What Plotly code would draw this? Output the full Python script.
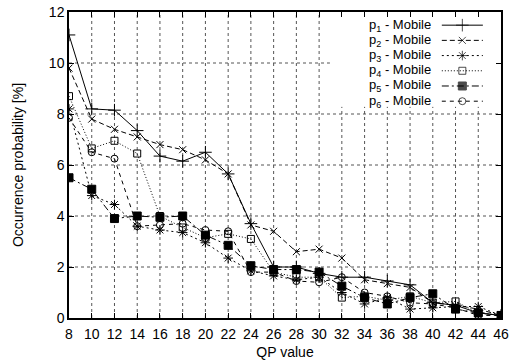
import plotly.graph_objects as go

qp = [8, 10, 12, 14, 16, 18, 20, 22, 24, 26, 28, 30, 32, 34, 36, 38, 40, 42, 44, 46]

p1 = [11.1, 8.2, 8.15, 7.35, 6.35, 6.15, 6.5, 5.65, 3.7, 2.0, 2.0, 1.75, 1.6, 1.6, 1.45, 1.3, 0.6, 0.5, 0.2, 0.1]
p2 = [9.8, 7.8, 7.4, 7.1, 6.8, 6.6, 6.2, 5.65, 3.65, 3.4, 2.6, 2.7, 2.35, 1.5, 1.35, 1.2, 0.6, 0.5, 0.35, 0.1]
p3 = [8.2, 4.8, 4.45, 3.6, 3.45, 3.35, 2.95, 2.35, 1.85, 1.65, 1.5, 1.6, 1.0, 0.55, 0.8, 0.35, 0.4, 0.45, 0.45, 0.1]
p4 = [8.7, 6.65, 6.95, 6.45, 4.0, 3.55, 3.15, 3.3, 3.1, 1.8, 1.6, 1.6, 0.8, 0.85, 0.7, 0.85, 0.6, 0.65, 0.2, 0.1]
p5 = [5.5, 5.05, 3.9, 4.0, 3.95, 4.0, 3.25, 2.85, 2.05, 1.9, 1.9, 1.8, 1.25, 0.8, 0.55, 0.8, 0.95, 0.35, 0.2, 0.1]
p6 = [7.85, 6.5, 6.25, 3.6, 3.65, 3.7, 3.45, 3.4, 1.8, 1.8, 1.45, 1.4, 1.6, 1.0, 0.85, 0.6, 0.55, 0.4, 0.1, 0.1]

names = ["p<sub>%d</sub> - Mobile" % i for i in range(1, 7)]
series = [p1, p2, p3, p4, p5, p6]
dashes = ["solid", "5px,3px", "2px,3px", "1px,2px", "7px,3px,2px,3px", "4px,4px"]
symbols = ["cross-thin-open", "x-thin-open", "asterisk-open", "square-open", "square", "circle-open"]
sizes = [9, 7, 8, 7, 8, 7]

FONT = "Liberation Sans"
XR = [8, 46]
YR = [0, 12]
XTICKS = list(range(8, 47, 2))
YTICKS = list(range(0, 13, 2))

fig = go.Figure()
for nm, ys, d, s, sz in zip(names, series, dashes, symbols, sizes):
    fig.add_trace(go.Scatter(
        x=qp, y=ys, name=nm, mode="lines+markers", showlegend=False,
        line=dict(color="black", width=1, dash=d),
        marker=dict(symbol=s, size=sz, color="black",
                    line=dict(color="black", width=1)),
    ))

# plot-area fraction -> axis value helpers (for the key and grid layout)
def fx(f):
    return XR[0] + f * (XR[1] - XR[0])

def fy(f):
    return YR[0] + f * (YR[1] - YR[0])

key_text_x = 0.842
key_line_x0, key_line_x1 = 0.863, 0.958
key_top, key_step = 0.957, 0.0497
key_box_x0, key_box_y0 = 0.604, 0.69   # gnuplot key area keeps the grid out

# dotted grid (drawn as shapes so it can stop at the key area)
grid_line = dict(color="#555555", width=1, dash="dot")
for xv in XTICKS[1:-1]:
    ytop = fy(key_box_y0) if xv >= fx(key_box_x0) else YR[1]
    fig.add_shape(type="line", xref="x", yref="y", x0=xv, x1=xv, y0=YR[0], y1=ytop,
                  line=grid_line, layer="below")
for yv in YTICKS[1:-1]:
    xright = fx(key_box_x0) if yv >= fy(key_box_y0) else XR[1]
    fig.add_shape(type="line", xref="x", yref="y", x0=XR[0], x1=xright, y0=yv, y1=yv,
                  line=grid_line, layer="below")

for i, (nm, d, s, sz) in enumerate(zip(names, dashes, symbols, sizes)):
    ky = key_top - i * key_step
    fig.add_annotation(xref="paper", yref="paper", x=key_text_x, y=ky,
                       xanchor="right", yanchor="middle", showarrow=False,
                       text=nm, font=dict(family=FONT, size=13, color="black"))
    fig.add_trace(go.Scatter(
        x=[fx(key_line_x0), fx((key_line_x0 + key_line_x1) / 2), fx(key_line_x1)],
        y=[fy(ky)] * 3,
        mode="lines+markers", showlegend=False, hoverinfo="skip",
        line=dict(color="black", width=1, dash=d),
        marker=dict(symbol=s, size=[0, sz, 0], color="black",
                    line=dict(color="black", width=[0, 1, 0])),
    ))

axis_common = dict(
    showgrid=False,
    showline=True, linecolor="black", linewidth=1.5, mirror="ticks",
    ticks="inside", ticklen=5, tickcolor="black", zeroline=False,
    automargin=False,
    tickfont=dict(family=FONT, size=14, color="black"),
)

fig.update_layout(
    width=516, height=363,
    margin=dict(l=69, r=15, t=12, b=45),
    paper_bgcolor="white", plot_bgcolor="white",
    showlegend=False,
    xaxis=dict(range=XR, tickvals=XTICKS, ticklabelstandoff=2,
               title=dict(text="QP value", standoff=7,
                          font=dict(family=FONT, size=14, color="black")),
               **axis_common),
    yaxis=dict(range=YR, tickvals=YTICKS,
               title=dict(text="Occurrence probability [%]", standoff=22,
                          font=dict(family=FONT, size=14, color="black")),
               **axis_common),
)

fig.write_html("out.html")
